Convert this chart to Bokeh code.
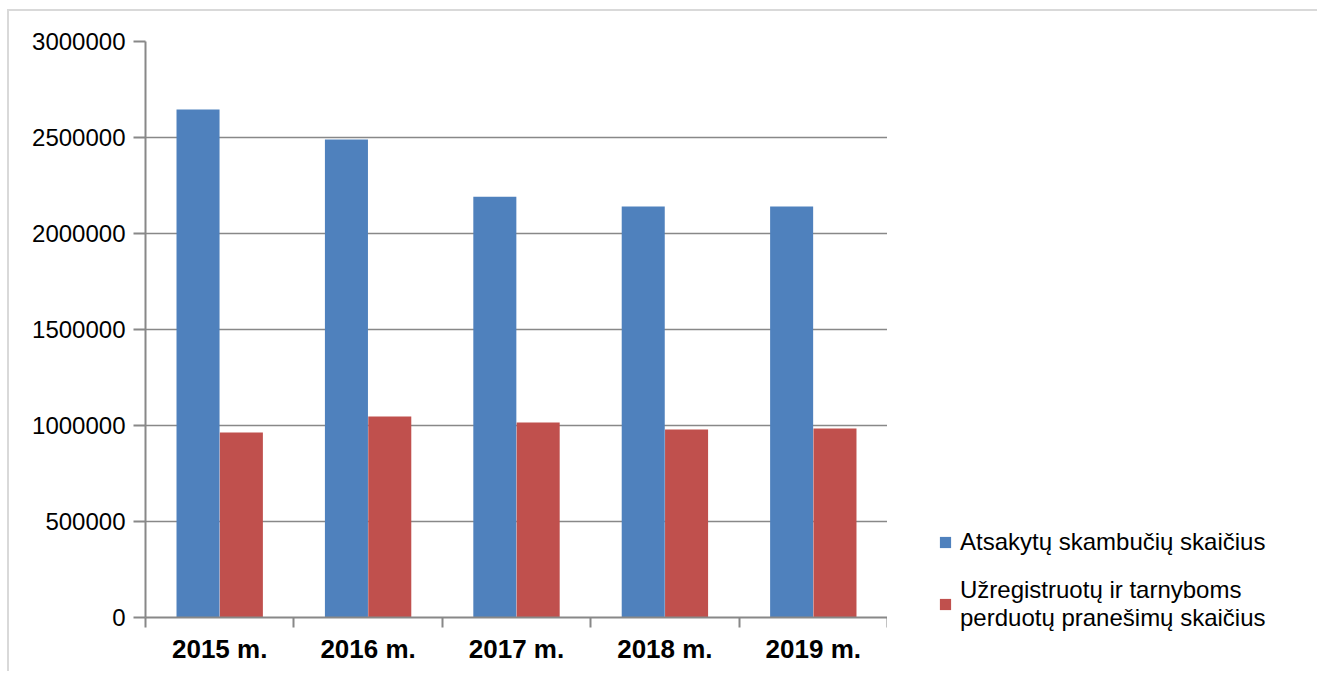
from bokeh.plotting import figure
from bokeh.models import (ColumnDataSource, Range1d, FixedTicker, Legend, LegendItem)
from bokeh.layouts import row
from bokeh.transform import dodge
from bokeh.embed import file_html
from bokeh.resources import INLINE

years = ["2015 m.", "2016 m.", "2017 m.", "2018 m.", "2019 m."]
answered = [2646000, 2490000, 2192000, 2141000, 2141000]
registered = [964000, 1047000, 1016000, 979000, 984000]
series_names = ["Atsakytų skambučių skaičius",
                "Užregistruotų ir tarnyboms\nperduotų pranešimų skaičius"]
y_ticks = [0, 500000, 1000000, 1500000, 2000000, 2500000, 3000000]

BLUE = "#4F81BD"
RED = "#C0504D"
GRID = "#888888"
FONT = "Liberation Sans"

xs = [i + 0.5 for i in range(len(years))]
src = ColumnDataSource(dict(x=xs, answered=answered, registered=registered))

p = figure(width=878, height=660, output_backend="svg", toolbar_location=None,
           x_range=Range1d(0, len(years)), y_range=Range1d(0, 3000000),
           min_border_left=136, min_border_top=30, min_border_bottom=54,
           min_border_right=0)
p.frame_align = False
p.outline_line_color = None
p.background_fill_color = "white"
p.border_fill_color = "white"

p.vbar(x=dodge("x", -0.146, range=p.x_range), top="answered", width=0.29,
       source=src, fill_color=BLUE, line_color=None)
p.vbar(x=dodge("x", 0.146, range=p.x_range), top="registered", width=0.29,
       source=src, fill_color=RED, line_color=None)

# y axis
p.yaxis.ticker = FixedTicker(ticks=y_ticks)
p.yaxis.formatter.use_scientific = False
p.yaxis.axis_line_color = GRID
p.yaxis.axis_line_width = 2
p.yaxis.major_tick_line_color = GRID
p.yaxis.major_tick_line_width = 2
p.yaxis.major_tick_out = 12
p.yaxis.major_tick_in = 0
p.yaxis.minor_tick_line_color = None
p.yaxis.major_label_standoff = 8
p.yaxis.major_label_text_font = FONT
p.yaxis.major_label_text_font_size = "24px"
p.yaxis.major_label_text_color = "black"

# x axis
p.xaxis.ticker = FixedTicker(ticks=xs, minor_ticks=list(range(len(years) + 1)))
p.xaxis.major_label_overrides = {x: y for x, y in zip(xs, years)}
p.xaxis.axis_line_color = GRID
p.xaxis.axis_line_width = 2
p.xaxis.major_tick_line_color = None
p.xaxis.major_tick_out = 0
p.xaxis.major_tick_in = 0
p.xaxis.minor_tick_line_color = GRID
p.xaxis.minor_tick_line_width = 2
p.xaxis.minor_tick_out = 10
p.xaxis.minor_tick_in = 0
p.xaxis.major_label_standoff = 6
p.xaxis.major_label_text_font = FONT
p.xaxis.major_label_text_font_size = "26px"
p.xaxis.major_label_text_font_style = "bold"
p.xaxis.major_label_text_color = "black"

p.xgrid.visible = False
p.ygrid.ticker = FixedTicker(ticks=y_ticks)
p.ygrid.grid_line_color = GRID
p.ygrid.grid_line_width = 1.5

# legend panel (same series, drawn out of view; only the legend shows)
pl = figure(width=430, height=660, output_backend="svg", toolbar_location=None,
            x_range=Range1d(-20, -10), y_range=Range1d(0, 3000000),
            x_axis_location=None, y_axis_location=None,
            min_border_left=0, min_border_right=0, min_border_top=0,
            min_border_bottom=0)
pl.frame_align = False
pl.outline_line_color = None
pl.grid.visible = False
l1 = pl.vbar(x="x", top="answered", width=0.29, source=src,
             fill_color=BLUE, line_color=None)
l2 = pl.vbar(x="x", top="registered", width=0.29, source=src,
             fill_color=RED, line_color=None)

legend = Legend(items=[LegendItem(label=series_names[0], renderers=[l1]),
                       LegendItem(label=series_names[1], renderers=[l2])],
                location=(51, 39), orientation="vertical",
                glyph_width=14, glyph_height=14, label_standoff=8,
                spacing=20, padding=0, margin=0,
                border_line_alpha=0, background_fill_alpha=0,
                label_text_font=FONT, label_text_font_size="24px",
                label_text_color="black")
pl.add_layout(legend, "center")

layout = row(p, pl, spacing=0)
layout.styles = {"border-top": "2px solid #d9d9d9", "border-left": "2px solid #d9d9d9",
                 "margin-top": "9px", "margin-left": "7px"}

open("out.html", "w").write(file_html(layout, INLINE))
